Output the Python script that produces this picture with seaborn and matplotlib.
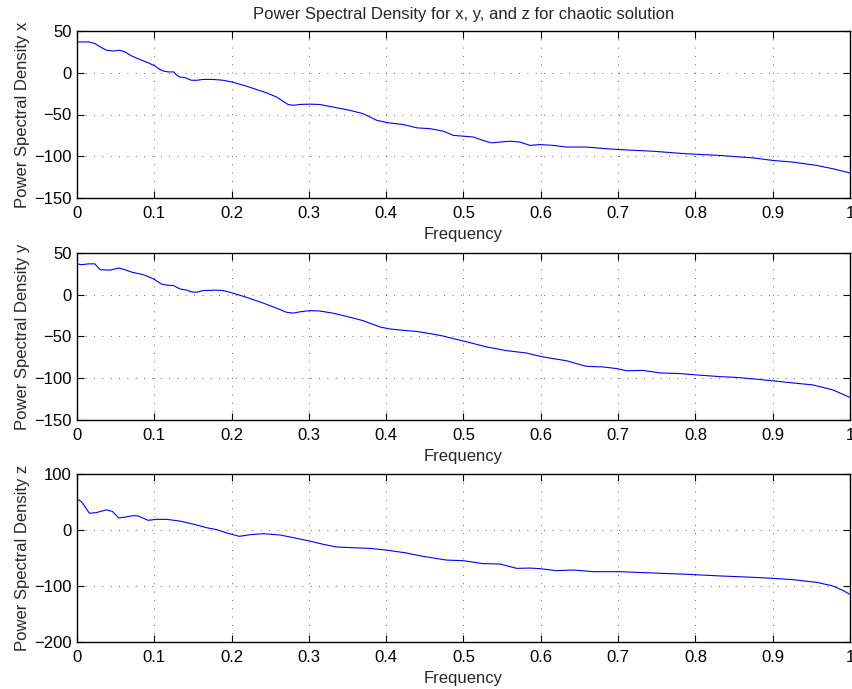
import numpy as np
import pandas as pd
import matplotlib
matplotlib.use("Agg")
import matplotlib.pyplot as plt
import seaborn as sns

# ---- data ----
freq_x = [0.0, 0.015, 0.023, 0.03, 0.038, 0.047, 0.055, 0.062, 0.071, 0.081, 0.092, 0.101,
          0.107, 0.112, 0.118, 0.125, 0.129, 0.133, 0.14, 0.148, 0.155, 0.163, 0.176, 0.189,
          0.2, 0.219, 0.245, 0.258, 0.273, 0.28, 0.288, 0.301, 0.314, 0.331, 0.353, 0.37,
          0.388, 0.403, 0.422, 0.44, 0.457, 0.474, 0.487, 0.5, 0.513, 0.525, 0.536, 0.547,
          0.56, 0.573, 0.586, 0.599, 0.616, 0.633, 0.659, 0.685, 0.702, 0.745, 0.788, 0.831,
          0.875, 0.9, 0.926, 0.957, 0.978, 1.0]
psd_x = [36.8, 37, 35, 31, 27, 26, 27, 25, 20, 16, 12, 8,
         4, 2, 1, 1, -3, -5, -6, -9, -9, -8, -8, -9,
         -11, -16, -24, -29, -38, -39, -38, -37.6, -38, -41, -45, -49,
         -57, -60, -62, -66, -67, -70, -75, -76, -77, -81, -84, -83,
         -82, -83, -87, -86, -87, -89, -89, -91, -92, -94, -97, -99,
         -102, -105, -107, -111, -115, -120]

freq_y = [0.0, 0.006, 0.015, 0.023, 0.03, 0.043, 0.054, 0.062, 0.071, 0.086, 0.099, 0.109,
          0.116, 0.125, 0.133, 0.142, 0.148, 0.155, 0.163, 0.181, 0.189, 0.2, 0.219, 0.241,
          0.258, 0.271, 0.28, 0.288, 0.301, 0.314, 0.331, 0.349, 0.37, 0.392, 0.405, 0.422,
          0.44, 0.457, 0.474, 0.487, 0.5, 0.53, 0.556, 0.581, 0.599, 0.616, 0.633, 0.651,
          0.659, 0.681, 0.698, 0.711, 0.732, 0.754, 0.78, 0.801, 0.831, 0.853, 0.875, 0.9,
          0.926, 0.952, 0.978, 1.0]
psd_y = [37, 36, 37, 37, 30, 29.5, 32, 30, 27, 24, 19, 13,
         11.5, 11, 7, 5.5, 3.5, 3, 5, 5.5, 5, 2.4, -3, -10,
         -16, -21, -22, -20.5, -19, -19.5, -22, -26, -31, -38.6, -41, -42.6,
         -44, -46.6, -49.5, -52.6, -55.4, -62.5, -67, -69.7, -73.7, -76.5, -79, -83.7,
         -85.7, -86.5, -88.4, -91, -90.6, -93.6, -94.4, -96, -98, -99, -100.8, -103,
         -105.6, -108, -114, -123]

freq_z = [0.0, 0.006, 0.01, 0.016, 0.025, 0.038, 0.046, 0.054, 0.062, 0.073, 0.079, 0.092,
          0.103, 0.116, 0.133, 0.15, 0.168, 0.181, 0.194, 0.21, 0.224, 0.241, 0.263, 0.28,
          0.301, 0.319, 0.336, 0.357, 0.379, 0.4, 0.426, 0.4435, 0.461, 0.478, 0.5, 0.525,
          0.547, 0.569, 0.586, 0.599, 0.62, 0.642, 0.668, 0.702, 0.745, 0.788, 0.831, 0.875,
          0.9, 0.926, 0.957, 0.978, 0.991, 1.0]
psd_z = [56, 50, 42, 30, 31, 36, 33, 21.5, 23, 25.7, 25, 17.3,
         19, 19, 16, 10.7, 4, 0.6, -5.4, -11.3, -8.4, -6.6, -9, -13.7,
         -19.7, -25.7, -30.4, -31.6, -32.8, -35.8, -41, -46, -50, -53.7, -54.8, -60,
         -60.7, -68.5, -68, -69, -72.6, -71.4, -74.4, -74.4, -76.8, -79, -82, -84.5,
         -86.3, -88.7, -93.5, -100, -108, -115]

xticks = [0, 0.1, 0.2, 0.3, 0.4, 0.5, 0.6, 0.7, 0.8, 0.9, 1]
xtick_labels = ["0", "0.1", "0.2", "0.3", "0.4", "0.5", "0.6", "0.7", "0.8", "0.9", "1"]
yticks_xy = [-150, -100, -50, 0, 50]
yticks_z = [-200, -100, 0, 100]

title = "Power Spectral Density for x, y, and z for chaotic solution"
ylabels = ["Power Spectral Density x", "Power Spectral Density y", "Power Spectral Density z"]

# ---- style ----
sns.set_theme(style="white")
plt.rcParams["font.family"] = ["Liberation Sans", "DejaVu Sans"]
plt.rcParams["axes.unicode_minus"] = True

W, H = 853, 689
fig = plt.figure(figsize=(W / 100, H / 100), dpi=100)

boxes = [(77, 31, 850, 198), (77, 253, 850, 420), (77, 474, 850, 642)]
series = [(freq_x, psd_x, yticks_xy), (freq_y, psd_y, yticks_xy), (freq_z, psd_z, yticks_z)]

for i, ((l, t, r, b), (fx, fy, yt)) in enumerate(zip(boxes, series)):
    ax = fig.add_axes([l / W, 1 - b / H, (r - l) / W, (b - t) / H])
    df = pd.DataFrame({"Frequency": fx, "PSD": fy})
    sns.lineplot(data=df, x="Frequency", y="PSD", ax=ax, color=(0, 0, 1),
                 linewidth=0.8, estimator=None, sort=False)
    ax.set_xlim(0, 1)
    ax.set_ylim(yt[0], yt[-1])
    ax.set_xticks(xticks)
    ax.set_xticklabels(xtick_labels)
    ax.set_yticks(yt)
    ax.set_yticklabels([str(v).replace("-", "\u2212") for v in yt])
    ax.grid(True, color="#333333", linestyle=(0, (1, 9)), linewidth=0.6)
    ax.tick_params(direction="in", length=5, width=0.8, top=True, right=True,
                   bottom=True, left=True, labelsize=12, colors="black")
    ax.tick_params(axis="x", pad=6)
    ax.tick_params(axis="y", pad=4)
    for s in ax.spines.values():
        s.set_visible(True)
        s.set_color("black")
        s.set_linewidth(1.0)
    ax.set_xlabel("Frequency", fontsize=12, labelpad=4)
    ax.set_ylabel(ylabels[i], fontsize=12, labelpad=3)
    if i == 0:
        ax.set_title(title, fontsize=12, pad=9)

fig.savefig("out.png", dpi=100, facecolor="white")
